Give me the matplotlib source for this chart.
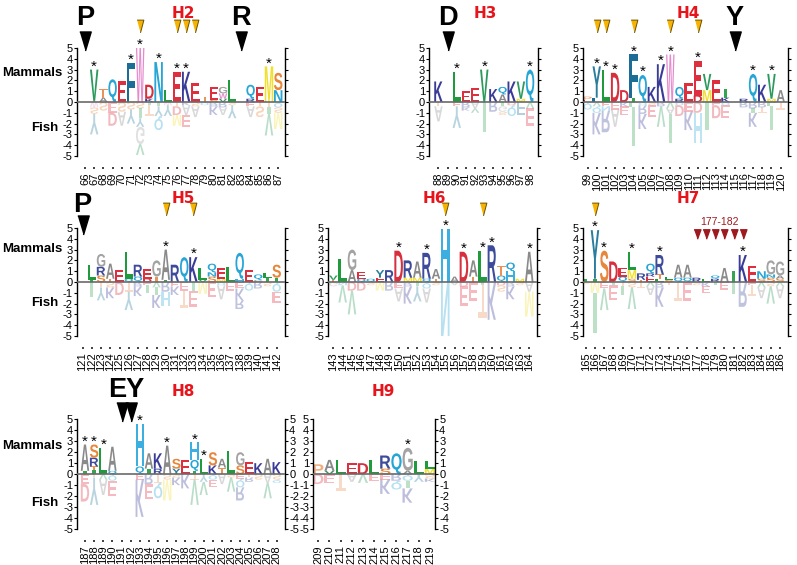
import matplotlib
matplotlib.use("Agg")
import matplotlib.pyplot as plt
from matplotlib import font_manager
from matplotlib.textpath import TextPath
from matplotlib.patches import PathPatch
from matplotlib.font_manager import FontProperties
from matplotlib.transforms import Affine2D, blended_transform_factory

plt.rcParams['font.family'] = ['Liberation Sans', 'DejaVu Sans']
installed = {f.name for f in font_manager.fontManager.ttflist}
tick_family = 'Liberation Sans Narrow' if 'Liberation Sans Narrow' in installed else 'Liberation Sans'

# ---------------- data (letter + height, bottom->top for mammals, zero->down for fish)
h2_pos = list(range(66, 88))
h2_mammals = ["", "T0.1 V2.9", "A0.4 T0.8", "Q2.1", "E1.9", "F3.6", "W5.0", "K0.3 D1.3",
              "N3.7", "L1.1", "E2.8", "K2.8", "E1.8", "T0.5", "S0.2 E1.2", "V0.3 W0.5 G0.6",
              "L2.0", "", "R0.3 Q1.3", "E1.4", "M3.3", "N1.1 S1.6"]
h2_fish = ["", "W0.5 S0.6 Y1.9", "S0.8", "E1.0 D1.2", "S0.9 A1.3", "S0.7 Y1.3",
           "S0.6 I0.9 Y0.8 G1.6 V1.0", "I0.3 T1.0", "I0.4 Y0.9 Q1.3", "W0.3 Y1.0",
           "T0.4 D0.8 M1.0", "K0.3 A0.9 E1.1", "S0.4 A1.0", "Q0.3", "R0.4 K0.8", "R0.5 A0.7",
           "S0.3 Y1.2", "", "E0.4 A1.0", "T0.4 S1.0", "T0.5 I0.6 V2.0", "Q0.5 S0.5 M1.5"]
h2_stars = [67, 71, 72, 74, 76, 77, 86]
h2_gold = [72, 76, 77, 78]
h2_marks = [([66], "P"), ([83], "R")]

h3_pos = list(range(88, 99))
h3_mammals = ["K1.9", "", "L2.8", "E1.0", "E1.3", "V3.0", "K1.2", "A0.7 Q0.7", "K1.9",
              "M0.3 V1.6", "Q3.0"]
h3_fish = ["T0.4 A1.4", "", "E0.4 Y2.0", "R0.5 K0.3", "A0.6 V0.4", "I2.8", "R0.9",
           "I0.4 G0.5 S0.3", "D0.3 Q1.0", "F1.2", "V0.6 E1.6"]
h3_stars = [90, 93, 98]
h3_gold = []
h3_marks = [([89], "D")]

h4_pos = list(range(99, 121))
h4_mammals = ["E0.2 P0.3", "F0.4 Y2.9", "L3.0", "D2.7", "D1.1", "I0.4 F4.0", "Q2.5", "K1.4",
              "K3.5", "W4.4", "R0.3 Q1.1", "E1.8", "D0.6 E3.2", "M1.1 V1.5", "E2.0",
              "K0.4 I0.8", "", "R0.3", "Q2.6", "K1.6", "M0.3 V2.3", "A1.1"]
h4_fish = ["Q0.7", "V0.4 Q0.6 K2.0", "E0.4 N0.4 R2.0", "E0.7 A1.6", "K0.4 E0.8",
           "L0.5 I3.6", "Q0.3 R0.8 K1.4", "S0.3 E1.1", "R0.4 V1.9", "V0.6 A0.5 I2.7",
           "Q0.3 D1.0", "E0.9 K1.7", "D1.0 H2.8", "I2.6", "E0.3 D1.2", "Q0.3 E1.2", "",
           "R0.5", "R0.6 I0.4 K1.3", "R0.5 T0.5", "L0.4 I2.2", "T0.7"]
h4_stars = [100, 101, 102, 104, 105, 107, 108, 111, 117, 119]
h4_gold = [100, 101, 104, 108, 111]
h4_marks = [([115], "Y")]

h5_pos = list(range(121, 143))
h5_mammals = ["", "I0.2 L1.4", "S0.6 R0.8 G1.2", "T0.3 A1.4", "E1.1", "Q0.3 L2.5",
              "Q0.5 R1.1", "D0.3 E0.9", "T0.5 G1.5", "I0.2 A2.8", "R1.6", "Q2.3", "K2.3",
              "V0.2 L1.1", "S0.5 N0.4 Q0.8", "M0.3 E1.0", "L1.4", "H0.3 Q2.4", "E1.1",
              "G0.2 Q0.5", "I0.4 L0.4", "I0.4 S1.2"]
h5_fish = ["", "I1.4", "T0.5 Y1.2", "S0.5 K1.0", "D1.2", "T0.9 Y1.7", "R0.4 K0.9",
           "E0.3 I0.7", "V0.5 I0.7 K1.2", "R0.9 H1.3", "E0.4 K0.8", "E0.8 T1.6",
           "I0.8 E1.5", "M1.1", "E1.4", "Q0.3 A1.3", "E0.8", "E0.6 K1.1 R0.8", "Q0.8",
           "R0.6", "S0.4", "Q0.9 E1.0"]
h5_stars = [130, 133]
h5_gold = [130, 133]
h5_marks = [([121], "P")]

h6_pos = list(range(143, 165))
h6_mammals = ["T0.2 V0.4", "L2.1", "A1.1 G1.9", "Q0.3 E0.6", "Q0.3", "E0.4 Y0.7", "R1.1",
              "D2.9", "M0.4 R1.6", "M0.4 A1.5", "Q0.3 R2.4", "T0.3 A0.9", "H4.9", "A0.5",
              "D2.8", "T0.5 A1.5", "L2.9", "R3.4", "Q0.6 T0.9", "H1.0 Q0.8", "M0.3", "A2.8"]
h6_fish = ["G0.4", "N0.3 V1.6", "D0.8 V2.2", "D0.8", "S0.3", "M0.8", "R0.8", "E0.6 A1.2",
           "R0.4 K1.6", "I0.4 Y1.4", "Q0.6 A1.3", "S0.3", "N5.0", "A0.3", "D0.4 E1.8",
           "E1.8", "I0.3 T3.0", "K3.5", "D0.3 S0.6", "R0.4 K1.2", "S0.3", "A0.9 M2.3"]
h6_stars = [150, 153, 155, 157, 159, 160, 164]
h6_gold = [155, 159]
h6_marks = []

h7_pos = list(range(165, 187))
h7_mammals = ["I0.3", "I0.3 Y4.5", "S2.9", "D1.9", "Q0.5 E0.8", "S0.3 M0.8 L1.7",
              "T0.2 R0.6", "E0.5 R0.3 Q0.9", "L0.3 T0.4 R1.8", "S0.2 L0.3", "Q0.4 A1.2",
              "Q0.4 A1.2", "R0.4", "L0.3", "R0.3 Q0.3", "A1.3", "I1.0", "K2.5", "E1.5",
              "S0.3 N0.7", "S0.4 N0.3 G1.3", "S0.3 A0.3 G1.3"]
h7_fish = ["S0.2", "M1.0 I3.7", "E0.6 V2.0", "I0.3 E1.4", "T0.4 I0.8", "S0.5 V2.0", "T0.6",
           "V0.4 A0.8", "R0.5 K1.8", "T0.3", "T1.8", "E1.8", "S0.3", "K0.4 E0.6", "I0.3",
           "E0.7", "I1.1", "R2.3", "E0.3 T1.0", "V0.5 A1.0", "S0.4 V1.6", "V0.4 A1.1"]
h7_stars = [166, 167, 170, 173, 182]
h7_gold = [166]
h7_marks = []
h7_red = [177, 178, 179, 180, 181, 182]

h8_pos = list(range(187, 209))
h8_mammals = ["I0.3 A2.4", "I0.4 T0.3 R0.8 S1.2", "L2.4", "Q0.3 A2.2", "", "", "Q0.7 H3.9",
              "I0.5 A1.4", "R0.5 K1.4", "A2.6", "Y0.5 S0.9", "E1.3", "I0.3 Q1.0 H1.6", "L1.4",
              "K0.8 S1.2", "T0.6 A0.8", "L2.1", "S0.8 G1.2", "E1.1", "K1.0", "A1.4", "K1.1"]
h8_fish = ["E0.9 D1.6", "T0.3 Y2.5", "V0.5 A1.4", "Q0.6 E1.4", "", "", "E0.5 K3.4",
           "R0.9 E1.4", "T0.8 Q1.4", "S0.5 M1.9", "S0.3 K0.7", "K1.3", "T0.5 V2.3",
           "Y0.7 V1.2", "Q0.5 E0.7", "A0.9", "S0.3 V1.3", "E0.4 Q0.8 R1.2", "T0.3 R0.4",
           "S0.5", "A0.8 V1.4", "S0.5 Q0.3"]
h8_stars = [187, 188, 189, 193, 196, 199, 200]
h8_gold = []
h8_marks = [([191, 192], "EY")]

h9_pos = list(range(209, 220))
h9_mammals = ["P0.9", "V0.3 A1.0", "L1.3", "E1.0", "D1.0", "L1.3", "S0.5 R1.2", "Q1.9",
              "A0.3 G2.1", "L1.2", "M0.5 L0.7"]
h9_fish = ["D0.9", "E0.8", "T1.5", "A0.7", "V0.8", "E0.6", "E0.5 K1.3", "R0.6 Q0.8",
           "Q0.6 I0.7 K1.3", "Y0.7", "S0.4 K0.3"]
h9_stars = [217]
h9_gold = []
h9_marks = []

colors = {
    'A': '#8a8a8a', 'G': '#a3a3a3', 'V': '#2b9a5c', 'L': '#1f9b3d', 'I': '#35a552',
    'F': '#1b6d95', 'Y': '#2a7d9c', 'W': '#e58bcd', 'M': '#f1df2e', 'C': '#e9cf3a',
    'P': '#f0ae7e', 'T': '#e8935a', 'S': '#e6873c', 'N': '#27a6d6', 'Q': '#27a6d6',
    'H': '#3caee0', 'D': '#d72f3d', 'E': '#de2f3f', 'K': '#393b97', 'R': '#3e4b9b',
}

# ---------------- helpers
letter_font = FontProperties(family='Liberation Sans', weight='bold')
glyphs = {}


def glyph(ch):
    if ch not in glyphs:
        glyphs[ch] = TextPath((0, 0), ch, size=1, prop=letter_font)
    return glyphs[ch]


def parse(stack):
    return [(tok[0], float(tok[1:])) for tok in stack.split()]


def draw_letter(ax, ch, x, y, h, w, flip, alpha):
    p = glyph(ch)
    ext = p.get_extents()
    if ch == 'I':
        w = w * 0.4
    t = Affine2D().translate(-(ext.x0 + ext.x1) / 2, -ext.y0).scale(w / ext.width, h / ext.height)
    if flip:
        t = t.scale(1, -1)
    t = t.translate(x, y)
    ax.add_patch(PathPatch(t.transform_path(p), fc=colors[ch], ec='none',
                           alpha=alpha, clip_on=False, zorder=2))


W, H = 797, 565
fig = plt.figure(figsize=(W / 100, H / 100), dpi=100)

panels = [
    dict(name='H2', pos=h2_pos, mam=h2_mammals, fish=h2_fish, stars=h2_stars, gold=h2_gold,
         marks=h2_marks, box=(77, 285, 409, 108), xlim=(65.13, 87.74), row=1, side=True),
    dict(name='H3', pos=h3_pos, mam=h3_mammals, fish=h3_fish, stars=h3_stars, gold=h3_gold,
         marks=h3_marks, box=(429.3, 538.3, 409, 108), xlim=(87.0, 98.9), row=1, side=False),
    dict(name='H4', pos=h4_pos, mam=h4_mammals, fish=h4_fish, stars=h4_stars, gold=h4_gold,
         marks=h4_marks, box=(583.3, 788.3, 409, 108), xlim=(98.54, 120.83), row=1, side=False),
    dict(name='H5', pos=h5_pos, mam=h5_mammals, fish=h5_fish, stars=h5_stars, gold=h5_gold,
         marks=h5_marks, box=(77, 285, 229, 108), xlim=(120.4, 142.9), row=2, side=True),
    dict(name='H6', pos=h6_pos, mam=h6_mammals, fish=h6_fish, stars=h6_stars, gold=h6_gold,
         marks=h6_marks, box=(328.3, 536.7, 229, 108), xlim=(142.46, 164.8), row=2, side=False),
    dict(name='H7', pos=h7_pos, mam=h7_mammals, fish=h7_fish, stars=h7_stars, gold=h7_gold,
         marks=h7_marks, box=(583.3, 788.3, 229, 108), xlim=(164.74, 186.9), row=2, side=False),
    dict(name='H8', pos=h8_pos, mam=h8_mammals, fish=h8_fish, stars=h8_stars, gold=h8_gold,
         marks=h8_marks, box=(77.3, 285, 36, 109.7), xlim=(186.16, 208.9), row=3, side=True),
    dict(name='H9', pos=h9_pos, mam=h9_mammals, fish=h9_fish, stars=h9_stars, gold=h9_gold,
         marks=h9_marks, box=(313.3, 435, 36, 109.7), xlim=(208.55, 219.45), row=3, side=False),
]

# per-row vertical placement of decorations (data units)
row_label_y = {1: 7.75, 2: 7.35, 3: 7.1}
row_mark_text_y = {1: 7.1, 2: 6.5, 3: 7.07}
row_mark_tri_y = {1: 5.65, 2: 5.25, 3: 5.7}
row_gold_y = {1: 7.0, 2: 6.75, 3: 6.75}
row_side_y = {1: (2.7, -2.45), 2: (3.05, -1.9), 3: (2.55, -2.6)}
label_xfrac = {'H9': 0.575}

tall_tri = [(-0.6, 1), (0.6, 1), (0, -1)]
gold_tri = [(-0.53, 1), (0.53, 1), (0, -1)]
red_tri = [(-0.72, 1), (0.72, 1), (0, -1)]

for pn in panels:
    left, right, bottom, height = pn['box']
    ax = fig.add_axes([left / W, bottom / H, (right - left) / W, height / H])
    ax.set_xlim(pn['xlim'])
    ax.set_ylim(-5, 5)

    # stacks
    totals = {}
    for x, ms, fs in zip(pn['pos'], pn['mam'], pn['fish']):
        y = 0.0
        for ch, h in parse(ms):
            draw_letter(ax, ch, x, y, h, 0.92, False, 1.0)
            y += h
        totals[x] = y
        y = 0.0
        for ch, h in parse(fs):
            draw_letter(ax, ch, x, y, h, 0.92, True, 0.33)
            y -= h

    ax.axhline(0, color='#6a6a6a', lw=1.2, zorder=3)

    # asterisks
    for x in pn['stars']:
        ax.text(x, totals[x] - 0.1, '*', ha='center', va='baseline', fontsize=11,
                color='black', clip_on=False)

    row = pn['row']
    # gold triangles
    if pn['gold']:
        ax.plot(pn['gold'], [row_gold_y[row]] * len(pn['gold']), ls='none',
                marker=gold_tri, markersize=9.2, markerfacecolor='#f6b400',
                markeredgecolor='#6b5000', markeredgewidth=0.7, clip_on=False)
    # black residue marks
    for xs, lab in pn['marks']:
        ax.plot(xs, [row_mark_tri_y[row]] * len(xs), ls='none', marker=tall_tri,
                markersize=13.7, color='black', clip_on=False)
        ax.text(sum(xs) / len(xs), row_mark_text_y[row], lab, ha='center', va='baseline',
                fontsize=19.5, fontweight='bold', color='black', clip_on=False)

    # helix label
    ax.text(label_xfrac.get(pn['name'], 0.51), row_label_y[row], pn['name'],
            transform=blended_transform_factory(ax.transAxes, ax.transData),
            ha='center', va='baseline', fontsize=11, fontweight='bold',
            color='#e8141c', family='DejaVu Sans')

    if pn['name'] == 'H7':
        ax.plot(h7_red, [4.4] * len(h7_red), ls='none', marker=red_tri, markersize=6.8,
                color='#9e1a1f', clip_on=False)
        ax.text(sum(h7_red) / len(h7_red), 5.25, '177-182', ha='center', va='baseline',
                fontsize=7.5, color='#9e1a1f')

    # axes styling
    ax.spines['top'].set_visible(False)
    ax.spines['bottom'].set_position(('outward', 8))
    ax.spines['bottom'].set_visible(False)
    for s in ('left', 'right'):
        ax.spines[s].set_linewidth(1.0)
    ax.set_xticks(pn['pos'])
    ax.set_xticklabels([str(p) for p in pn['pos']], rotation=90, fontsize=8,
                       family=tick_family)
    ax.tick_params(axis='x', length=1.4, width=1.3, pad=2.5, color='#333333')
    ax.set_yticks(range(-5, 6))
    ax.set_yticklabels([str(v) for v in range(-5, 6)], family=tick_family)
    ax.tick_params(axis='y', left=True, right=True, labelright=(row == 3),
                   length=2.5, width=0.8, labelsize=8, pad=0.5)

    if pn['side']:
        tr = blended_transform_factory(fig.transFigure, ax.transData)
        my, fy = row_side_y[row]
        ax.text(62 / W, my, 'Mammals', transform=tr, ha='right', va='center',
                fontsize=9.5, fontweight='bold')
        ax.text(58 / W, fy, 'Fish', transform=tr, ha='right', va='center',
                fontsize=9.5, fontweight='bold')

fig.savefig('out.png', dpi=100)
